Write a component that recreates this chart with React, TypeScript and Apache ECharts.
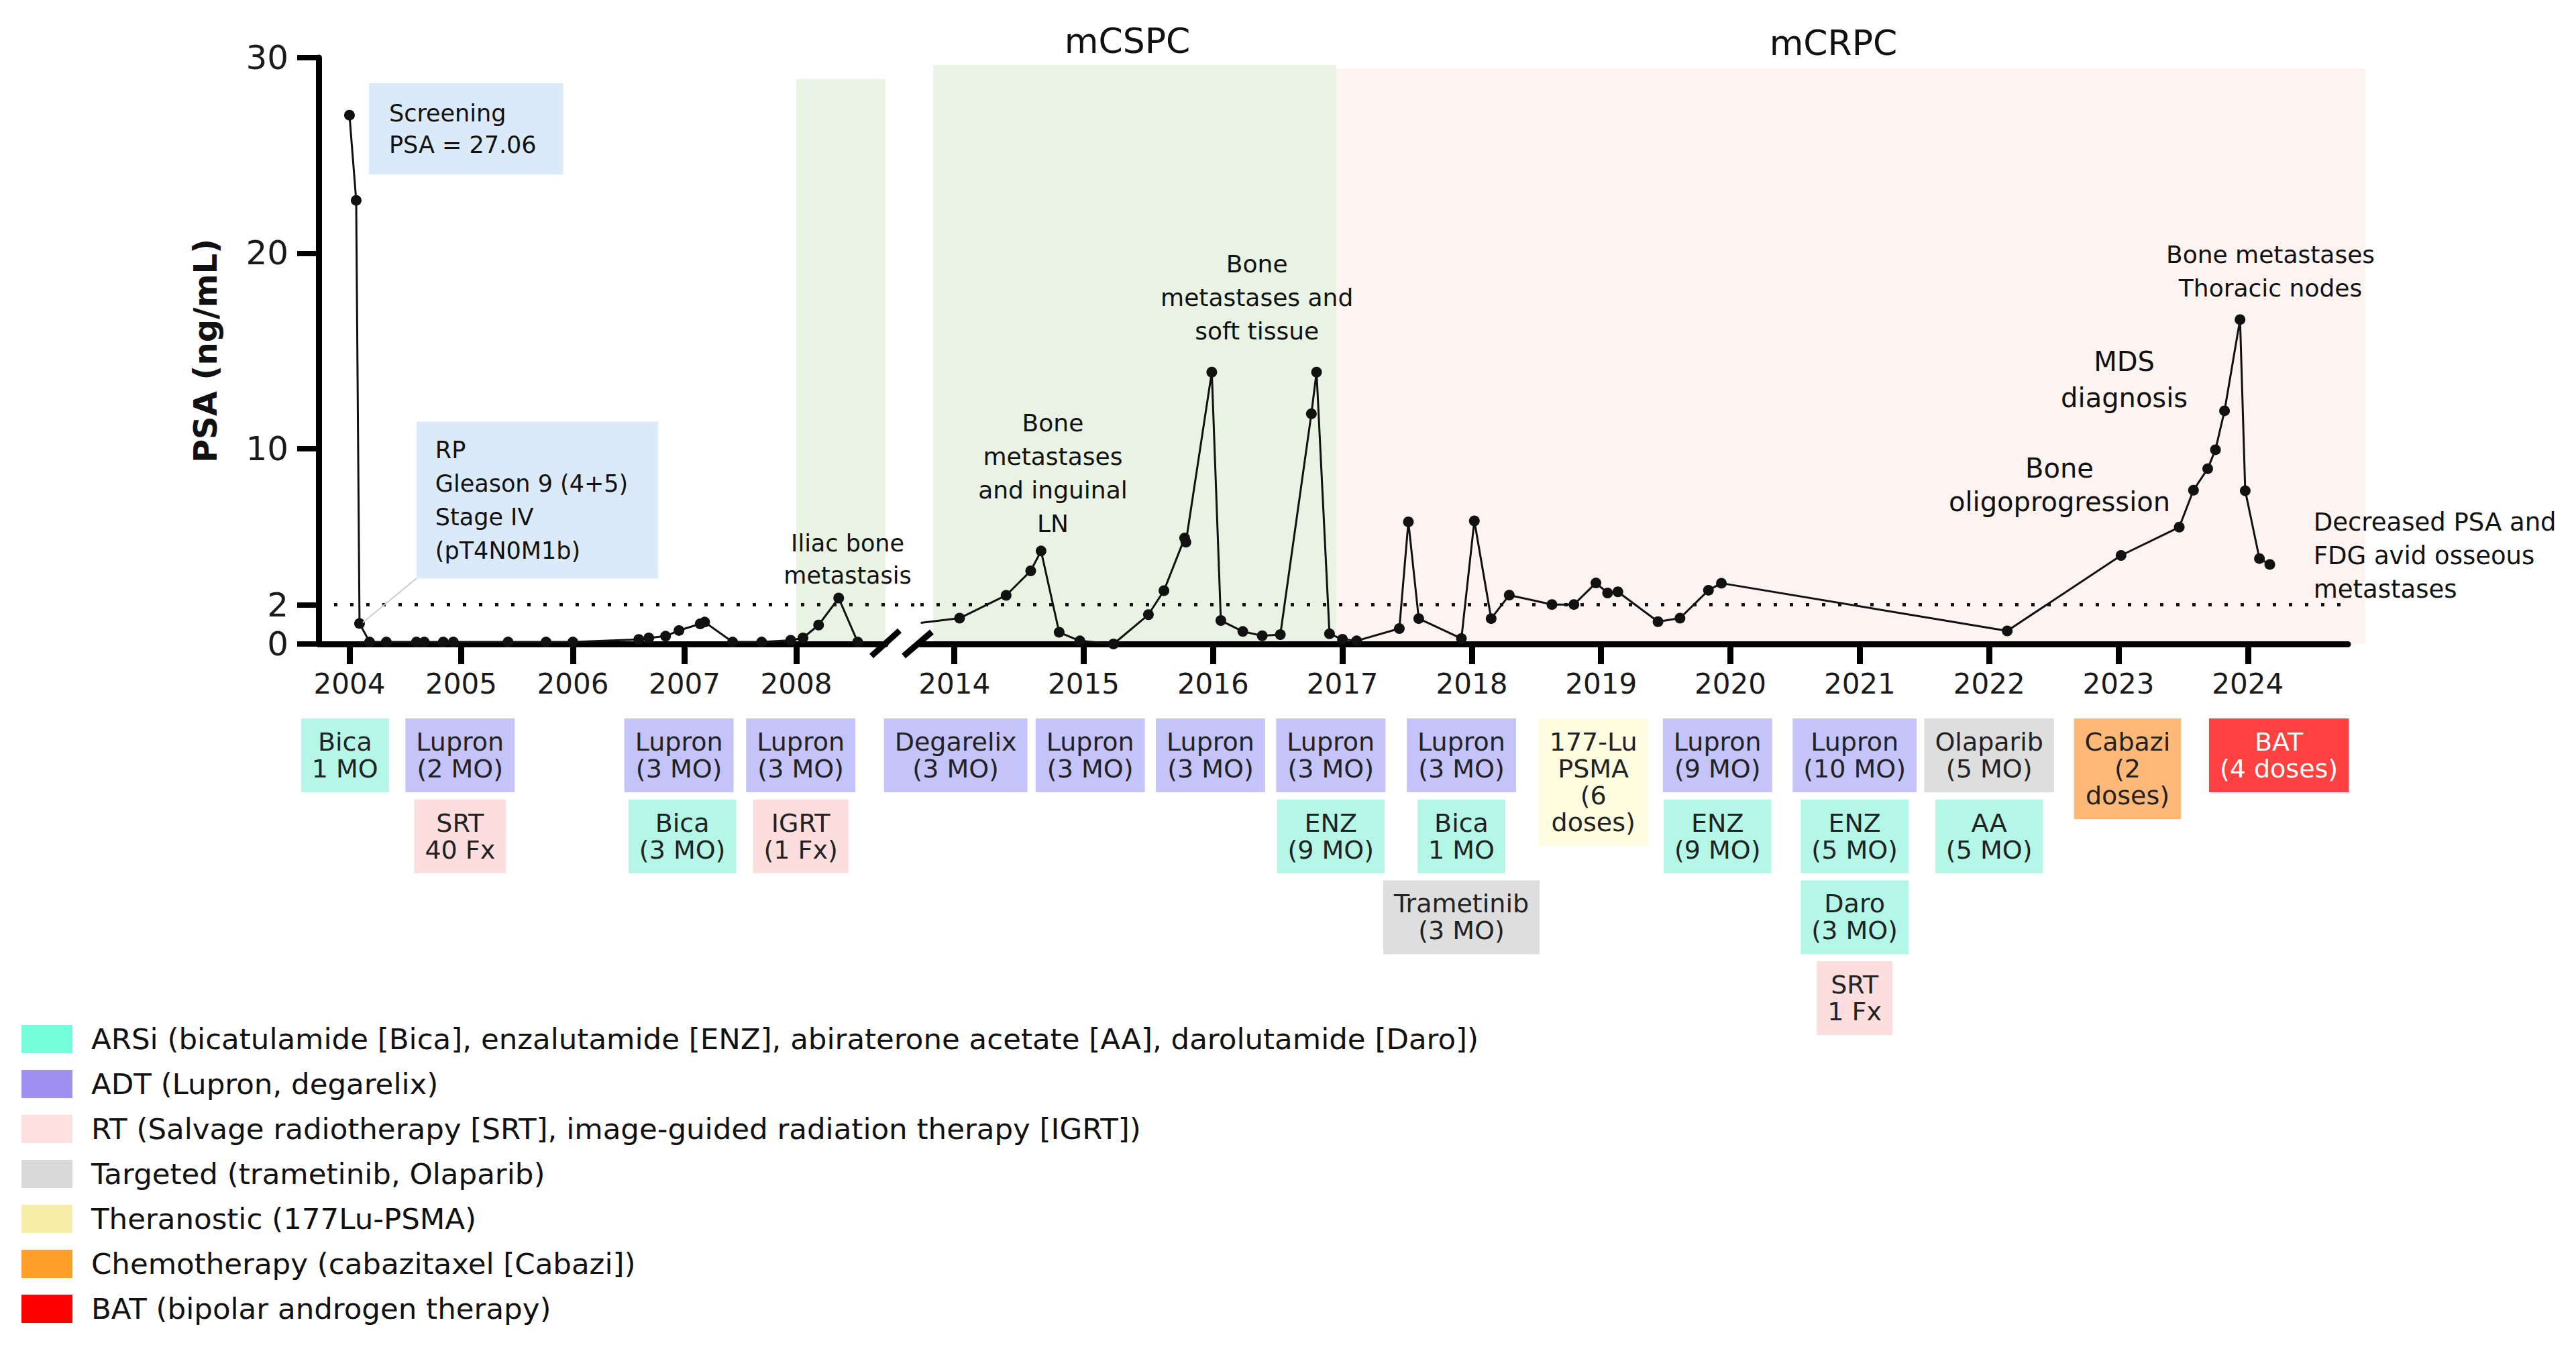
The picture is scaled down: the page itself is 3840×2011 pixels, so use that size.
import React, { useEffect, useRef } from "react";
import * as echarts from "echarts";

const FONT = "DejaVu Sans";

// ---------- PSA data (year, ng/mL) ----------
const psaYears1 = [2004.0, 2004.06, 2004.09, 2004.18, 2004.33, 2004.6, 2004.67, 2004.84, 2004.93, 2005.42, 2005.76, 2006.0, 2006.59, 2006.68, 2006.83, 2006.95, 2007.14, 2007.18, 2007.43, 2007.69, 2007.95, 2008.06, 2008.2, 2008.38, 2008.55];
const psaValues1 = [27.06, 22.7, 1.05, 0.1, 0.1, 0.1, 0.1, 0.1, 0.1, 0.1, 0.1, 0.1, 0.23, 0.31, 0.4, 0.69, 1.03, 1.12, 0.1, 0.1, 0.19, 0.31, 0.97, 2.35, 0.1];

const psaYears2 = [2013.74, 2014.04, 2014.4, 2014.59, 2014.67, 2014.81, 2014.97, 2015.23, 2015.5, 2015.62, 2015.78, 2015.79, 2015.99, 2016.06, 2016.23, 2016.38, 2016.52, 2016.76, 2016.8, 2016.9, 2017.0, 2017.11, 2017.44, 2017.51, 2017.59, 2017.92, 2018.02, 2018.15, 2018.29, 2018.62, 2018.79, 2018.96, 2019.05, 2019.13, 2019.44, 2019.61, 2019.83, 2019.93, 2022.14, 2023.02, 2023.47, 2023.58, 2023.69, 2023.75, 2023.82, 2023.94, 2023.98, 2024.09, 2024.17];
const psaValues2 = [1.08, 1.32, 2.49, 3.74, 4.76, 0.6, 0.16, 0, 1.5, 2.73, 5.42, 5.21, 13.91, 1.2, 0.64, 0.42, 0.48, 11.78, 13.91, 0.52, 0.24, 0.16, 0.79, 6.25, 1.3, 0.28, 6.3, 1.3, 2.5, 2.02, 2.02, 3.12, 2.61, 2.67, 1.14, 1.32, 2.75, 3.11, 0.67, 4.53, 5.98, 7.87, 8.97, 9.94, 11.93, 16.6, 7.84, 4.37, 4.07];

// ---------- axes ----------
const yTickValues = [0, 2, 10, 20, 30];
const xTickYears1 = [2004, 2005, 2006, 2007, 2008];
const xTickYears2 = [2014, 2015, 2016, 2017, 2018, 2019, 2020, 2021, 2022, 2023, 2024];
const xRange1 = [2003.724, 2008.799];
const xRange2 = [2013.737, 2024.774];
const psaThreshold = 2;

// ---------- disease phases ----------
const phaseNames = ["", "mCSPC", "mCRPC"];
const phaseStart = [2008.0, 2013.836, 2016.953];
const phaseEnd = [2008.83, 2016.953, 2024.906];
const phaseTop = [28.9, 29.63, 29.45];
const phaseSegment = [0, 1, 1];
const phaseColors = ["#E9F3E3", "#E9F3E3", "#FDF3F1"];

// ---------- treatment categories ----------
const categoryNames = [
  "ARSi (bicatulamide [Bica], enzalutamide [ENZ], abiraterone acetate [AA], darolutamide [Daro])",
  "ADT (Lupron, degarelix)",
  "RT (Salvage radiotherapy [SRT], image-guided radiation therapy [IGRT])",
  "Targeted (trametinib, Olaparib)",
  "Theranostic (177Lu-PSMA)",
  "Chemotherapy (cabazitaxel [Cabazi])",
  "BAT (bipolar androgen therapy)",
];
const categoryLegendColors = ["#73FFDB", "#9F8FEF", "#FFE0E0", "#D9D9D9", "#F5EDA8", "#FF9F28", "#FF0000"];
const categoryBoxColors = ["#B4F7E6", "#C4C4FA", "#FDDEDE", "#DEDEDE", "#FFFDE0", "#FFB878", "#FF4040"];
const categoryTextColors = ["#222", "#222", "#222", "#222", "#222", "#222", "#FFFFFF"];

// ---------- treatments ----------
const treatmentLabels = [
  "Bica\n1 MO", "Lupron\n(2 MO)", "SRT\n40 Fx", "Lupron\n(3 MO)", "Bica\n(3 MO)", "Lupron\n(3 MO)", "IGRT\n(1 Fx)",
  "Degarelix\n(3 MO)", "Lupron\n(3 MO)", "Lupron\n(3 MO)", "Lupron\n(3 MO)", "ENZ\n(9 MO)",
  "Lupron\n(3 MO)", "Bica\n1 MO", "Trametinib\n(3 MO)", "177-Lu\nPSMA\n(6\ndoses)",
  "Lupron\n(9 MO)", "ENZ\n(9 MO)", "Lupron\n(10 MO)", "ENZ\n(5 MO)", "Daro\n(3 MO)", "SRT\n1 Fx",
  "Olaparib\n(5 MO)", "AA\n(5 MO)", "Cabazi\n(2\ndoses)", "BAT\n(4 doses)",
];
const treatmentYears = [
  2003.96, 2004.99, 2004.99, 2006.95, 2006.98, 2008.04, 2008.04,
  2014.01, 2015.05, 2015.98, 2016.91, 2016.91,
  2017.92, 2017.92, 2017.92, 2018.94,
  2019.9, 2019.9, 2020.96, 2020.96, 2020.96, 2020.96,
  2022.0, 2022.0, 2023.07, 2024.24,
];
const treatmentRows = [0, 0, 1, 0, 1, 0, 1, 0, 0, 0, 0, 1, 0, 1, 2, 0, 0, 1, 0, 1, 2, 3, 0, 1, 0, 0];
const treatmentCategories = [0, 1, 2, 1, 0, 1, 2, 1, 1, 1, 1, 0, 1, 0, 3, 4, 1, 0, 1, 0, 0, 2, 3, 0, 5, 6];

// ---------- annotations ----------
const annotationTexts = [
  "Screening\nPSA = 27.06",
  "RP\nGleason 9 (4+5)\nStage IV\n(pT4N0M1b)",
  "Iliac bone\nmetastasis",
  "Bone\nmetastases\nand inguinal\nLN",
  "Bone\nmetastases and\nsoft tissue",
  "Bone\noligoprogression",
  "MDS\ndiagnosis",
  "Bone metastases\nThoracic nodes",
  "Decreased PSA and\nFDG avid osseous\nmetastases",
];
const annotationYears = [2004.174, 2004.6, 2008.46, 2014.761, 2016.339, 2022.544, 2023.045, 2024.175, 2024.508];
const annotationValues = [26.36, 7.36, 4.33, 8.74, 17.72, 8.12, 13.54, 19.07, 4.53];
const annotationSegment = [0, 0, 0, 1, 1, 1, 1, 1, 1];
// connector from RP box to the post-RP PSA point
const connectorFrom = [2004.6, 3.36];
const connectorTo = [2004.12, 1.1];

const annotationStyle = (i: number) => {
  const base: any = {
    show: true,
    position: "inside",
    formatter: annotationTexts[i],
    fontFamily: FONT,
    fontSize: 36,
    lineHeight: 50,
    color: "#111",
    align: "center",
    verticalAlign: "middle",
  };
  if (i === 0) Object.assign(base, { fontSize: 35, align: "left", lineHeight: 47, backgroundColor: "#DAEAF8", padding: [21, 40, 21, 30] });
  if (i === 1) Object.assign(base, { fontSize: 35, align: "left", lineHeight: 50, backgroundColor: "#DAEAF8", padding: [17, 45, 17, 28] });
  if (i === 2) Object.assign(base, { fontSize: 35, lineHeight: 48 });
  if (i === 5) Object.assign(base, { fontSize: 40, lineHeight: 50 });
  if (i === 6) Object.assign(base, { fontSize: 40, lineHeight: 54 });
  if (i === 8) Object.assign(base, { align: "left", fontSize: 37 });
  return base;
};

const DOT_DASH = [5, 19];
const dotted = { color: "#111", width: 5, type: DOT_DASH as any };
const connector = { color: "#D0D0D0", width: 2, type: "solid" };

function buildOption() {
  const seriesFor = (seg: number) => {
    const years = seg === 0 ? psaYears1 : psaYears2;
    const vals = seg === 0 ? psaValues1 : psaValues2;
    const data = years.map((x, i) =>
      seg === 1 && i === 0 ? { value: [x, vals[i]], symbol: "none" } : [x, vals[i]]
    );
    const range = seg === 0 ? xRange1 : xRange2;
    const lineData: any[] = [
      [
        { coord: [seg === 0 ? 2003.862 : range[0], psaThreshold], lineStyle: dotted },
        { coord: [seg === 0 ? range[1] : 2024.728, psaThreshold], lineStyle: dotted },
      ],
    ];
    if (seg === 0) {
      lineData.push([
        { coord: connectorFrom, lineStyle: connector },
        { coord: connectorTo, lineStyle: connector },
      ]);
    }
    const areas: any[] = [];
    phaseNames.forEach((name, i) => {
      if (phaseSegment[i] !== seg) return;
      areas.push([
        {
          name,
          xAxis: phaseStart[i],
          yAxis: 0,
          itemStyle: { color: phaseColors[i] },
          label: {
            show: name !== "",
            position: "top",
            distance: i === 1 ? 10 : 12,
            offset: [i === 1 ? -11 : -13, 0],
            fontFamily: FONT,
            fontSize: 52,
            color: "#111",
          },
        },
        { xAxis: phaseEnd[i], yAxis: phaseTop[i] },
      ]);
    });
    const points: any[] = [];
    annotationTexts.forEach((t, i) => {
      if (annotationSegment[i] !== seg) return;
      points.push({ coord: [annotationYears[i], annotationValues[i]], label: annotationStyle(i) });
    });
    return {
      type: "line",
      xAxisIndex: seg,
      yAxisIndex: seg,
      data,
      clip: false,
      symbol: "circle",
      symbolSize: 16,
      lineStyle: { color: "#111", width: 3 },
      itemStyle: { color: "#111" },
      z: 3,
      silent: true,
      markArea: { silent: true, z: 0, data: areas },
      markLine: { silent: true, symbol: ["none", "none"], label: { show: false }, data: lineData },
      markPoint: {
        silent: true,
        symbol: "circle",
        symbolSize: 1,
        itemStyle: { color: "rgba(0,0,0,0)" },
        data: points,
      },
    };
  };

  const treatmentSeries = (seg: number) => {
    const indices = treatmentYears
      .map((y, i) => i)
      .filter((i) => (seg === 0 ? treatmentYears[i] < 2010 : treatmentYears[i] >= 2010));
    return {
      type: "custom",
      xAxisIndex: seg,
      yAxisIndex: seg,
      clip: false,
      silent: true,
      z: 5,
      data: indices.map((i) => [treatmentYears[i], treatmentRows[i]]),
      renderItem: (params: any, api: any) => {
        const i = indices[params.dataIndex];
        const base = api.coord([api.value(0), 0]);
        const cat = treatmentCategories[i];
        return {
          type: "text",
          x: base[0],
          y: base[1] + 111 + api.value(1) * 120.7,
          style: {
            text: treatmentLabels[i],
            fontFamily: FONT,
            fontSize: 38,
            lineHeight: 40,
            fill: categoryTextColors[cat],
            align: "center",
            verticalAlign: "top",
            backgroundColor: categoryBoxColors[cat],
            padding: [15, 16, 15, 16],
          },
        };
      },
    };
  };

  const xAxisFor = (seg: number) => {
    const range = seg === 0 ? xRange1 : xRange2;
    const ticks = seg === 0 ? xTickYears1 : xTickYears2;
    return {
      type: "value",
      gridIndex: seg,
      min: range[0],
      max: range[1],
      splitLine: { show: false },
      axisLine: { show: true, onZero: false, lineStyle: { color: "#000", width: 9 } },
      axisTick: { show: true, customValues: ticks, length: 30, lineStyle: { color: "#000", width: 9 } },
      axisLabel: {
        show: true,
        customValues: ticks,
        margin: 38,
        fontFamily: FONT,
        fontSize: 42,
        color: "#1a1a1a",
        formatter: (v: number) => String(Math.round(v)),
      },
    };
  };

  return {
    animation: false,
    backgroundColor: "#ffffff",
    textStyle: { fontFamily: FONT },
    grid: [
      { left: 475, top: 86, width: 845, height: 874 },
      { left: 1372, top: 86, width: 2128, height: 874 },
    ],
    xAxis: [xAxisFor(0), xAxisFor(1)],
    yAxis: [
      {
        type: "value",
        gridIndex: 0,
        min: 0,
        max: 30,
        splitLine: { show: false },
        axisLine: { show: true, lineStyle: { color: "#000", width: 9 } },
        axisTick: { show: true, customValues: yTickValues, length: 32, lineStyle: { color: "#000", width: 8 } },
        axisLabel: { show: true, customValues: yTickValues, margin: 45, fontFamily: FONT, fontSize: 50, color: "#1a1a1a" },
        name: "PSA (ng/mL)",
        nameLocation: "middle",
        nameGap: 145,
        nameTextStyle: { fontFamily: FONT, fontSize: 48, fontWeight: "bold", color: "#111" },
      },
      { type: "value", gridIndex: 1, min: 0, max: 30, show: false },
    ],
    series: [seriesFor(0), seriesFor(1), treatmentSeries(0), treatmentSeries(1)],
  };
}

function buildGraphics(chart: any) {
  const els: any[] = [];
  categoryNames.forEach((name, i) => {
    const cy = 1549 + i * 67;
    els.push({
      id: "legend-swatch-" + i,
      type: "rect",
      shape: { x: 32, y: cy - 21, width: 76, height: 42 },
      style: { fill: categoryLegendColors[i] },
    });
    els.push({
      id: "legend-text-" + i,
      type: "text",
      x: 136,
      y: cy,
      style: { text: name, fontFamily: FONT, fontSize: 43.5, fill: "#111", verticalAlign: "middle", align: "left" },
    });
  });

  // pieces that lie between / beyond the two axis segments, placed through the axes' scales
  const yThr = chart.convertToPixel({ yAxisIndex: 0 }, psaThreshold);
  const y0 = chart.convertToPixel({ yAxisIndex: 1 }, 0);
  const gap1 = chart.convertToPixel({ xAxisIndex: 0 }, xRange1[1]);
  const gap2 = chart.convertToPixel({ xAxisIndex: 1 }, xRange2[0]);
  const endAxis = chart.convertToPixel({ xAxisIndex: 1 }, xRange2[1]);
  const endPink = chart.convertToPixel({ xAxisIndex: 1 }, phaseEnd[2]);
  const topPink = chart.convertToPixel({ yAxisIndex: 1 }, phaseTop[2]);

  els.push({
    id: "pink-overflow",
    type: "rect",
    z: -1,
    shape: { x: endAxis, y: topPink, width: endPink - endAxis, height: y0 - topPink },
    style: { fill: phaseColors[2] },
  });
  els.push({
    id: "threshold-gap",
    type: "line",
    shape: { x1: gap1 + 14, y1: yThr, x2: gap2, y2: yThr },
    style: { stroke: "#111", lineWidth: 5, lineDash: DOT_DASH },
  });

  // axis break marks
  els.push({ id: "brk1", type: "line", shape: { x1: 1299, y1: 978, x2: 1341, y2: 940 }, style: { stroke: "#000", lineWidth: 9 } });
  els.push({ id: "brk2", type: "line", shape: { x1: 1347, y1: 978, x2: 1389, y2: 942 }, style: { stroke: "#000", lineWidth: 9 } });
  return els;
}

export default function App() {
  const ref = useRef<HTMLDivElement>(null);
  useEffect(() => {
    if (!ref.current) return;
    const chart = echarts.init(ref.current, null, { renderer: "svg" });
    chart.setOption(buildOption() as any);
    chart.setOption({ graphic: buildGraphics(chart) } as any);
    return () => chart.dispose();
  }, []);
  return (
    <div
      ref={ref}
      style={{ position: "absolute", left: 0, top: 0, width: 3840, height: 2011, background: "#fff" }}
    />
  );
}
